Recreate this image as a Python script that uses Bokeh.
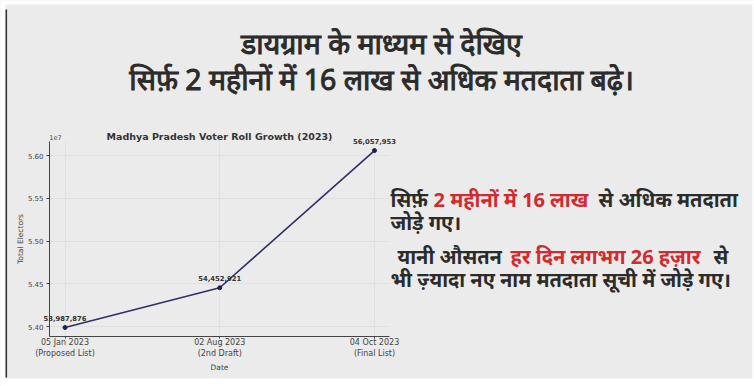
from bokeh.plotting import figure
from bokeh.models import (Range1d, FixedTicker, Label, ColumnDataSource, BoxAnnotation, Grid)
from bokeh.core.properties import value
from bokeh.embed import file_html
from bokeh.resources import INLINE

# ---- data ----
dates = ["05 Jan 2023", "02 Aug 2023", "04 Oct 2023"]
stages = ["(Proposed List)", "(2nd Draft)", "(Final List)"]
electors = [53987876, 54452921, 56057953]
y_ticks = [54.0e6, 54.5e6, 55.0e6, 55.5e6, 56.0e6]
y_tick_labels = ["5.40", "5.45", "5.50", "5.55", "5.60"]

title_lines = ["डायग्राम के माध्यम से देखिए",
               "सिर्फ़ 2 महीनों में 16 लाख से अधिक मतदाता बढ़े।"]
note_line1 = ["सिर्फ़", "2 महीनों में 16 लाख", "से अधिक मतदाता"]
note_line2 = ["जोड़े गए।"]
note_line3 = ["यानी औसतन", "हर दिन लगभग 26 हज़ार", "से"]
note_line4 = ["भी ज़्यादा नए नाम मतदाता सूची में जोड़े गए।"]

# ---- layout (canvas px) ----
W, H = 754, 386
BG = "#ebebeb"
DARK = "#2b2b2b"
RED = "#d42a2f"
LINE = "#2f2f6b"

# chart area in data units (matplotlib-like 5% margins)
ymin, ymax = min(electors), max(electors)
ypad = (ymax - ymin) * 0.05
X_LO, X_HI = -0.1, len(electors) - 1 + 0.1
Y_LO, Y_HI = ymin - ypad, ymax + ypad

# whole canvas is the frame; chart placed via ranges
PX_PER_X = 154.75          # px per category step
X0_PX = 64.5               # canvas x of first category
PX_PER_Y = 171 / 2.0e6     # px per elector
Y0_PX = 326                # canvas y of 5.40e7
x_rng = Range1d(-X0_PX / PX_PER_X, (W - X0_PX) / PX_PER_X)
y_rng = Range1d(54.0e6 - (H - Y0_PX) / PX_PER_Y, 54.0e6 + Y0_PX / PX_PER_Y)

p = figure(width=W, height=H, output_backend="svg", toolbar_location=None,
           x_range=x_rng, y_range=y_rng,
           min_border=0, min_border_left=0, min_border_right=0,
           min_border_top=0, min_border_bottom=0)
p.extra_x_ranges = {"px": Range1d(0, W)}
p.extra_y_ranges = {"py": Range1d(H, 0)}

p.background_fill_color = BG
p.border_fill_color = BG
p.outline_line_color = None

# axes at fixed locations, bounded to the chart area
p.xaxis.fixed_location = Y_LO
p.yaxis.fixed_location = X_LO
p.xaxis.bounds = (X_LO, X_HI)
p.yaxis.bounds = (Y_LO, Y_HI)

xs = list(range(len(electors)))
p.xaxis.ticker = FixedTicker(ticks=xs)
p.xaxis.major_label_overrides = {i: f"{d}\n{s}" for i, (d, s) in enumerate(zip(dates, stages))}
p.yaxis.ticker = FixedTicker(ticks=y_ticks)
p.yaxis.major_label_overrides = {t: l for t, l in zip(y_ticks, y_tick_labels)}
p.xaxis.axis_label = "Date"
p.yaxis.axis_label = "Total Electors"
for ax in (p.xaxis[0], p.yaxis[0]):
    ax.axis_line_color = "#444444"
    ax.major_tick_line_color = "#444444"
    ax.major_tick_in = 0
    ax.minor_tick_line_color = None
    ax.major_label_text_font = "DejaVu Sans"
    ax.major_label_text_color = "#444444"
    ax.axis_label_text_font = "DejaVu Sans"
    ax.axis_label_text_font_size = "7.5px"
    ax.axis_label_text_font_style = "normal"
    ax.axis_label_text_color = "#444444"
p.xaxis.axis_label_standoff = 2
p.yaxis.axis_label_standoff = 0
p.xaxis.major_tick_out = 2
p.xaxis.major_label_standoff = 0
p.xaxis.major_label_text_font_size = "8px"
p.yaxis.major_tick_out = 3
p.yaxis.major_label_standoff = 3
p.yaxis.major_label_text_font_size = "7px"

if "cross_bounds" in Grid.properties():
    p.xgrid.bounds = (X_LO, X_HI)
    p.xgrid.cross_bounds = (Y_LO, Y_HI)
    p.ygrid.bounds = (Y_LO, Y_HI)
    p.ygrid.cross_bounds = (X_LO, X_HI)
    p.xgrid.grid_line_color = "#e0e0e0"
    p.ygrid.grid_line_color = "#e0e0e0"
else:
    p.xgrid.grid_line_color = None
    p.ygrid.grid_line_color = None

src = ColumnDataSource(dict(x=xs, y=electors,
                            lab=[f"{v:,}" for v in electors]))
p.line("x", "y", source=src, line_color=LINE, line_width=1.6)
p.scatter("x", "y", source=src, size=4, color="#1f1f55")
p.text("x", "y", text="lab", source=src, text_align="center",
       text_baseline="middle", y_offset=-9, text_font_size="6.8px",
       text_font_style="bold", text_color="#333333",
       text_font=value("DejaVu Sans"))

HAS_OUTLINE = "text_outline_color" in Label.properties()

def lab(x, y, text, size, color=DARK, bold=False, align="left",
        font="Noto Sans", baseline="middle", heavy=False):
    kw = {}
    if heavy and HAS_OUTLINE:
        kw["text_outline_color"] = color
    p.add_layout(Label(x=x, y=y, text=text, x_range_name="px", y_range_name="py",
                       text_font=font, text_font_size=f"{size}px",
                       text_font_style="bold" if bold else "normal",
                       text_color=color, text_align=align, text_baseline=baseline, **kw))

def box(l, r, t, b, color):
    p.add_layout(BoxAnnotation(left=l, right=r, top=t, bottom=b,
                               x_range_name="px", y_range_name="py",
                               fill_color=color, fill_alpha=1, line_color=None))

# slide edges (white page around the grey slide) and its dark left border
box(0, W, 0, 4, "white")
box(0, 5, 0, H, "white")
box(0, W, 378, H, "white")
box(752, W, 0, H, "white")
box(5, 6.6, 9, 377, "#333333")

# slide headline
lab(381, 42, title_lines[0], 28.5, align="center", heavy=True)
lab(381, 78, title_lines[1], 28.5, align="center", heavy=True)

# chart title and exponent
lab(219, 136, "Madhya Pradesh Voter Roll Growth (2023)", 9.5, color="#333333",
    bold=True, align="center", font="DejaVu Sans")
lab(55, 137, "1e7", 6.5, color="#444444", align="center", font="DejaVu Sans")

# right-hand note
FS = 20
lab(390, 199, note_line1[0], FS, bold=True)
lab(433, 199, note_line1[1], FS, color=RED, bold=True)
lab(598, 199, note_line1[2], FS, bold=True)
lab(390, 222, note_line2[0], FS, bold=True)
lab(397, 256, note_line3[0], FS, bold=True)
lab(510, 256, note_line3[1], FS, color=RED, bold=True)
lab(713, 256, note_line3[2], FS, bold=True)
lab(390, 279, note_line4[0], FS, bold=True)

open("out.html", "w").write(file_html(p, INLINE))
